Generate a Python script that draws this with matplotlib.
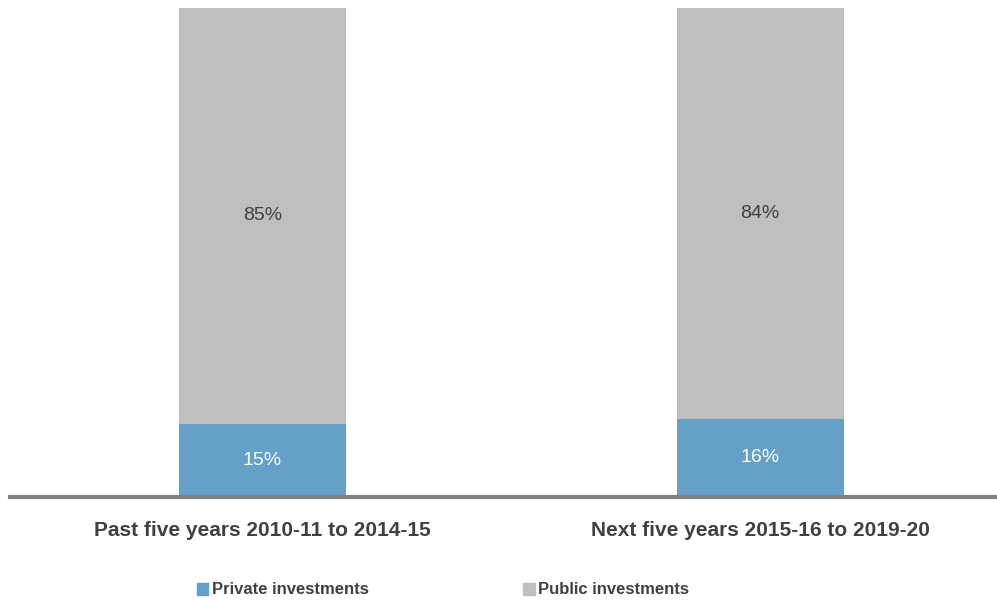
import numpy as np
import matplotlib.pyplot as plt
from matplotlib.patches import Patch

plt.rcParams['font.family'] = ['Liberation Sans', 'DejaVu Sans']

categories = ['Past five years 2010-11 to 2014-15', 'Next five years 2015-16 to 2019-20']
private = [15, 16]
public = [85, 84]
series_names = ['Private investments', 'Public investments']

blue = '#64A0C8'
grey = '#BFBFBF'

fig = plt.figure(figsize=(9.97, 6.0), dpi=100)
ax = fig.add_axes([10 / 997, 1 - 497 / 600, 987 / 997, 489 / 600])

x = np.arange(len(categories))
w = 0.336
ax.bar(x, private, w, color=blue)
ax.bar(x, public, w, bottom=private, color=grey)

for i in range(len(categories)):
    ax.text(x[i], private[i] / 2, f'{private[i]}%', ha='center', va='center',
            color='white', fontsize=14)
    ax.text(x[i], private[i] + public[i] / 2, f'{public[i]}%', ha='center', va='center',
            color='#404040', fontsize=14)

ax.set_xlim(-0.5075, 1.476)
ax.set_ylim(0, 100)
for s in ['top', 'right', 'left']:
    ax.spines[s].set_visible(False)
ax.spines['bottom'].set_color('#808080')
ax.spines['bottom'].set_linewidth(3)
ax.set_yticks([])
ax.set_xticks(x)
ax.set_xticklabels(categories, fontsize=15, fontweight='bold', color='#404040')
ax.tick_params(axis='x', length=0, pad=17)

handles = [Patch(color=blue), Patch(color=grey)]
fig.legend(handles, series_names, loc='center', bbox_to_anchor=(443 / 997, 1 - 590 / 600),
           ncol=2, frameon=False, handlelength=0.7, handleheight=0.7, handletextpad=0.2,
           columnspacing=9.3, prop={'size': 12, 'weight': 'bold'}, labelcolor='#404040')

fig.savefig('out.png', dpi=100)
